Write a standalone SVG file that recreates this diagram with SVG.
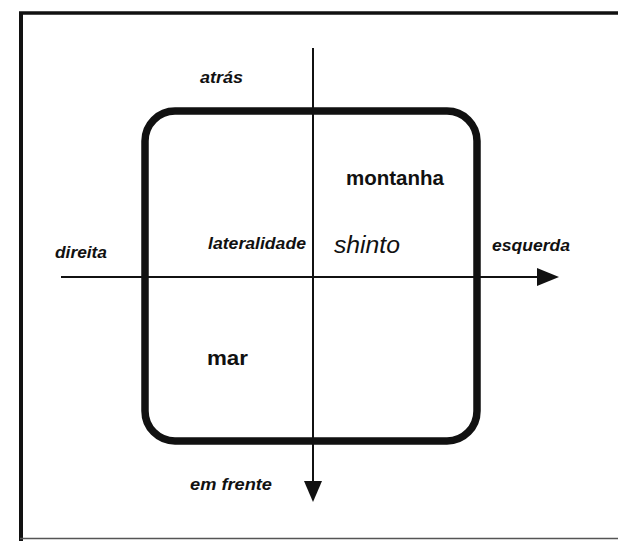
<svg xmlns="http://www.w3.org/2000/svg" width="618" height="541" viewBox="0 0 618 541">
  <style>
    .lbl { font-family: "Liberation Sans", Arial, sans-serif; font-weight: bold; font-style: italic; font-size: 16px; fill: #111; }
    .big { font-family: "Liberation Sans", Arial, sans-serif; font-weight: bold; font-size: 20px; fill: #111; }
    .shinto { font-family: "Liberation Sans", Arial, sans-serif; font-style: italic; font-size: 23px; fill: #111; }
    .axis { stroke: #111; stroke-width: 2; fill: none; }
    .head { fill: #111; }
  </style>
  <rect width="618" height="541" fill="#ffffff"/>
  <g id="frame">
    <line x1="19" y1="13" x2="618" y2="13" stroke="#111" stroke-width="3.5"/>
    <line x1="21" y1="12" x2="21" y2="541" stroke="#111" stroke-width="4"/>
    <line x1="20" y1="538.5" x2="618" y2="538.5" stroke="#555" stroke-width="1.5"/>
  </g>
  <g id="square">
    <rect x="145" y="111" width="332" height="330" rx="30" ry="30" fill="none" stroke="#111" stroke-width="7.5"/>
  </g>
  <g id="connectors">
    <line class="axis" x1="313" y1="48" x2="313" y2="484"/>
    <polygon class="head" points="304,481 322,481 313,502"/>
    <line class="axis" x1="61" y1="277" x2="540" y2="277"/>
    <polygon class="head" points="537,268 537,286 559,277"/>
  </g>
  <g id="atras"><text class="lbl" x="200" y="83" textLength="43" lengthAdjust="spacingAndGlyphs">atrás</text></g>
  <g id="montanha"><text class="big" x="346" y="185" textLength="98" lengthAdjust="spacingAndGlyphs">montanha</text></g>
  <g id="direita"><text class="lbl" x="55" y="258" textLength="52" lengthAdjust="spacingAndGlyphs">direita</text></g>
  <g id="lateralidade"><text class="lbl" x="208" y="249" textLength="98" lengthAdjust="spacingAndGlyphs">lateralidade</text></g>
  <g id="shinto"><text class="shinto" x="334" y="253" textLength="66" lengthAdjust="spacingAndGlyphs">shinto</text></g>
  <g id="esquerda"><text class="lbl" x="492" y="251" textLength="78" lengthAdjust="spacingAndGlyphs">esquerda</text></g>
  <g id="mar"><text class="big" x="207" y="365" textLength="41" lengthAdjust="spacingAndGlyphs">mar</text></g>
  <g id="em-frente"><text class="lbl" x="190" y="490" textLength="82" lengthAdjust="spacingAndGlyphs">em frente</text></g>
</svg>
